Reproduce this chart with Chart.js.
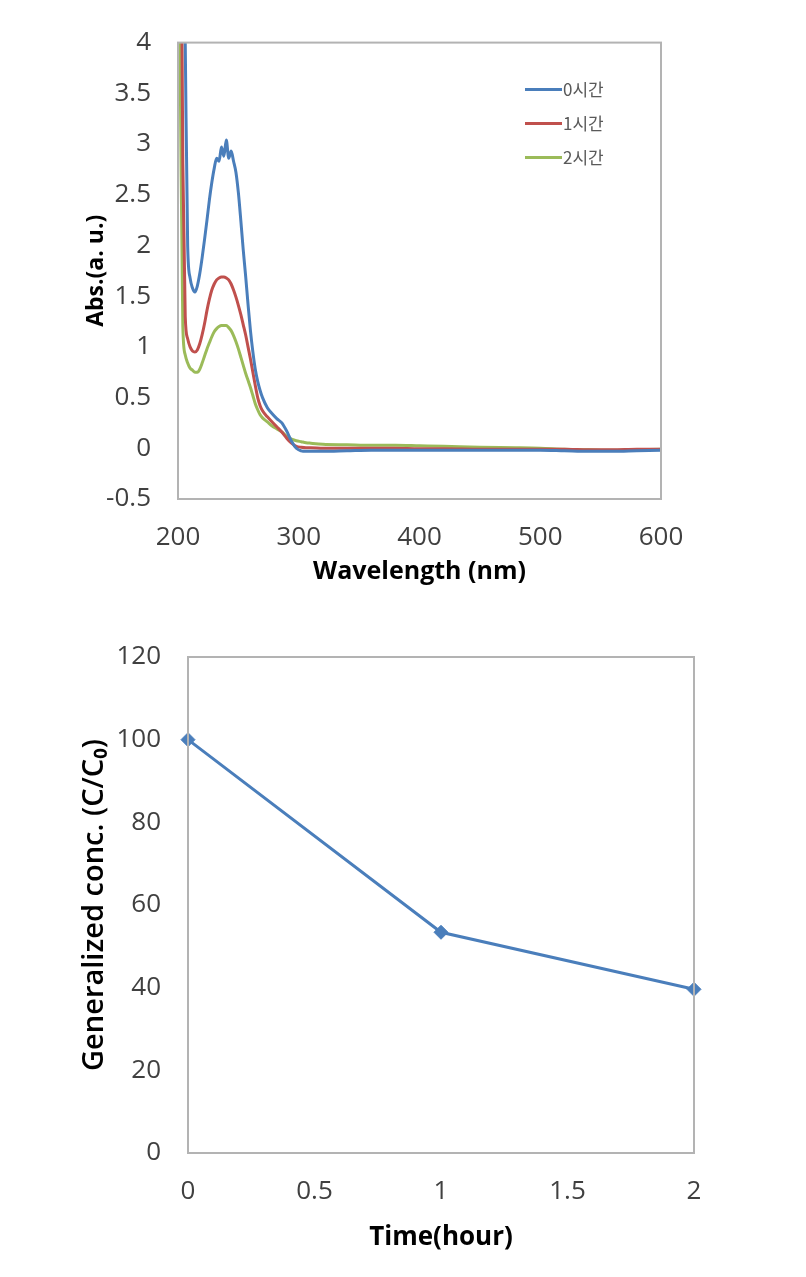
<!DOCTYPE html>
<html>
<head>
<meta charset="utf-8">
<script src="https://cdn.jsdelivr.net/npm/chart.js@4.4.1/dist/chart.umd.min.js"></script>
<style>
    html, body { margin: 0; padding: 0; background: #fff; }
    #page { position: relative; width: 806px; height: 1277px; }
    .box { position: absolute; left: 0; width: 806px; }
    #specBox { top: 0; height: 600px; }
    #concBox { top: 600px; height: 677px; }
</style>
</head>
<body>
<div id="page">
    <div class="box" id="specBox"><canvas id="spectrumChart"></canvas></div>
    <div class="box" id="concBox"><canvas id="concChart"></canvas></div>
</div>
<script>
// UV-Vis spectra (top chart)
const wavelengths = [200, 202, 204, 206, 208, 210, 212, 214, 216, 218, 220, 222, 224, 226, 228, 230, 232, 234, 236, 238,
    240, 242, 244, 246, 248, 250, 252, 254, 256, 258, 260, 262, 264, 266, 268, 270, 274, 278, 282, 286,
    290, 294, 298, 302, 306, 310, 320, 340, 360, 380, 400, 420, 450, 480, 500, 520, 540, 560, 580, 600];
const abs0h = [6, 6, 6, 4.0, 2.0, 1.68, 1.58, 1.54, 1.6, 1.72, 1.88, 2.06, 2.25, 2.45, 2.62, 2.76, 2.86, 2.83, 2.97, 2.88,
    3.04, 2.86, 2.93, 2.83, 2.72, 2.52, 2.25, 1.96, 1.7, 1.42, 1.16, 0.95, 0.78, 0.66, 0.57, 0.5, 0.4, 0.34, 0.29, 0.25,
    0.17, 0.07, 0.0, -0.025, -0.03, -0.03, -0.03, -0.025, -0.02, -0.02, -0.02, -0.02, -0.02, -0.02, -0.02, -0.025, -0.03, -0.03, -0.025, -0.02];
const abs1h = [6, 6, 2.8, 1.3, 1.08, 1.0, 0.96, 0.95, 0.97, 1.03, 1.12, 1.23, 1.36, 1.47, 1.56, 1.62, 1.66, 1.68, 1.69, 1.69,
    1.68, 1.66, 1.62, 1.56, 1.49, 1.41, 1.32, 1.22, 1.12, 1.0, 0.88, 0.75, 0.62, 0.5, 0.42, 0.37, 0.31, 0.26, 0.21, 0.16,
    0.1, 0.05, 0.02, 0.01, 0.005, 0.005, 0.0, 0.0, 0.0, 0.0, -0.005, -0.005, -0.01, -0.01, -0.01, -0.01, -0.015, -0.015, -0.01, -0.01];
const abs2h = [6, 3.5, 1.2, 0.92, 0.84, 0.79, 0.77, 0.75, 0.75, 0.78, 0.84, 0.91, 0.98, 1.04, 1.1, 1.15, 1.18, 1.2, 1.21, 1.21,
    1.21, 1.19, 1.16, 1.11, 1.05, 0.98, 0.9, 0.82, 0.74, 0.67, 0.6, 0.52, 0.44, 0.38, 0.33, 0.3, 0.26, 0.22, 0.19, 0.16,
    0.12, 0.09, 0.075, 0.065, 0.055, 0.05, 0.04, 0.035, 0.03, 0.03, 0.025, 0.02, 0.01, 0.005, 0.0, -0.01, -0.015, -0.02, -0.015, -0.01];
const seriesLabels = ['0시간', '1시간', '2시간'];
const wlTicks = [200, 300, 400, 500, 600];
const absTicks = [-0.5, 0, 0.5, 1, 1.5, 2, 2.5, 3, 3.5, 4];

// normalized concentration (bottom chart)
const times = [0, 1, 2];
const concValues = [100, 53.4, 39.6];
const timeTicks = [0, 0.5, 1, 1.5, 2];
const concTicks = [0, 20, 40, 60, 80, 100, 120];

const tickFont = { family: 'Open Sans', size: 26 };
const tickColor = '#404040';

// frame around the plot area
const frameBox = {
    id: 'frameBox',
    afterDatasetsDraw(chart) {
        const a = chart.chartArea;
        const ctx = chart.ctx;
        ctx.save();
        ctx.strokeStyle = '#b3b3b3';
        ctx.lineWidth = 2;
        ctx.strokeRect(a.left, a.top, a.right - a.left, a.bottom - a.top);
        ctx.restore();
    }
};

// legend drawn inside the plot, top right
const insideLegend = {
    id: 'insideLegend',
    afterDraw(chart, args, opts) {
        if (!opts.show) return;
        const a = chart.chartArea;
        const ctx = chart.ctx;
        ctx.save();
        ctx.font = '17px "Noto Sans CJK KR"';
        ctx.textBaseline = 'middle';
        chart.data.datasets.forEach((ds, i) => {
            const y = a.top + opts.top + i * opts.rowGap;
            const x = a.right - opts.right;
            ctx.strokeStyle = ds.borderColor;
            ctx.lineWidth = 3;
            ctx.beginPath();
            ctx.moveTo(x, y);
            ctx.lineTo(x + 37, y);
            ctx.stroke();
            ctx.fillStyle = '#595959';
            ctx.fillText(ds.label, x + 38, y);
        });
        ctx.restore();
    }
};

function fixedTicks(list) {
    return function (scale) {
        scale.ticks = list.map(v => ({ value: v }));
    };
}

function plainNumber(value) {
    return String(value);
}

function makeLine(label, xs, ys, color) {
    return {
        label: label,
        data: xs.map((x, i) => ({ x: x, y: ys[i] })),
        borderColor: color,
        backgroundColor: color,
        borderWidth: 3,
        pointRadius: 0,
        cubicInterpolationMode: 'monotone'
    };
}

new Chart(document.getElementById('spectrumChart'), {
    type: 'line',
    data: {
        datasets: [
            makeLine(seriesLabels[0], wavelengths, abs0h, '#4a7ebb'),
            makeLine(seriesLabels[1], wavelengths, abs1h, '#c0504d'),
            makeLine(seriesLabels[2], wavelengths, abs2h, '#9bbb59')
        ]
    },
    options: {
        responsive: true,
        maintainAspectRatio: false,
        animation: false,
        layout: { padding: { left: 0, right: 145, top: 41, bottom: 0 } },
        plugins: {
            legend: { display: false },
            tooltip: { enabled: false },
            insideLegend: { show: true, top: 47, right: 136, rowGap: 34 }
        },
        scales: {
            x: {
                type: 'linear',
                min: 200,
                max: 600,
                afterBuildTicks: fixedTicks(wlTicks),
                afterFit(scale) { scale.height = 101; },
                grid: { display: false, drawTicks: false },
                border: { display: false },
                ticks: { font: tickFont, color: tickColor, padding: 23, maxRotation: 0, callback: plainNumber },
                title: {
                    display: true, text: 'Wavelength (nm)', color: '#000',
                    font: { family: 'Open Sans', size: 25, weight: 'bold' },
                    padding: { bottom: 13 }
                }
            },
            y: {
                min: -0.5,
                max: 4,
                afterBuildTicks: fixedTicks(absTicks),
                afterFit(scale) { scale.width = 178; },
                grid: { display: false, drawTicks: false },
                border: { display: false },
                ticks: { font: tickFont, color: tickColor, padding: 27, callback: plainNumber },
                title: {
                    display: true, text: 'Abs.(a. u.)', color: '#000',
                    font: { family: 'Open Sans', size: 23, weight: 'bold' },
                    padding: { top: 83 }
                }
            }
        }
    },
    plugins: [frameBox, insideLegend]
});

new Chart(document.getElementById('concChart'), {
    type: 'line',
    data: {
        datasets: [{
            label: 'C/C0',
            data: times.map((t, i) => ({ x: t, y: concValues[i] })),
            borderColor: '#4a7ebb',
            backgroundColor: '#4a7ebb',
            borderWidth: 3,
            pointStyle: 'rectRot',
            pointRadius: 7,
            pointBorderWidth: 1,
            tension: 0,
            clip: false
        }]
    },
    options: {
        responsive: true,
        maintainAspectRatio: false,
        animation: false,
        layout: { padding: { left: 0, right: 112, top: 57, bottom: 0 } },
        plugins: {
            legend: { display: false },
            tooltip: { enabled: false },
            insideLegend: { show: false }
        },
        scales: {
            x: {
                type: 'linear',
                min: 0,
                max: 2,
                afterBuildTicks: fixedTicks(timeTicks),
                afterFit(scale) { scale.height = 124; },
                grid: { display: false, drawTicks: false },
                border: { display: false },
                ticks: { font: tickFont, color: tickColor, padding: 23, maxRotation: 0, callback: plainNumber },
                title: {
                    display: true, text: 'Time(hour)', color: '#000',
                    font: { family: 'Open Sans', size: 26, weight: 'bold' },
                    padding: { bottom: 24 }
                }
            },
            y: {
                min: 0,
                max: 120,
                afterBuildTicks: fixedTicks(concTicks),
                afterFit(scale) { scale.width = 188; },
                grid: { display: false, drawTicks: false },
                border: { display: false },
                ticks: { font: tickFont, color: tickColor, padding: 27, callback: plainNumber },
                title: {
                    display: true, text: 'Generalized conc. (C/C₀)', color: '#000',
                    font: { family: 'Open Sans', size: 29, weight: '600' },
                    padding: { top: 77 }
                }
            }
        }
    },
    plugins: [frameBox, insideLegend]
});
</script>
</body>
</html>
